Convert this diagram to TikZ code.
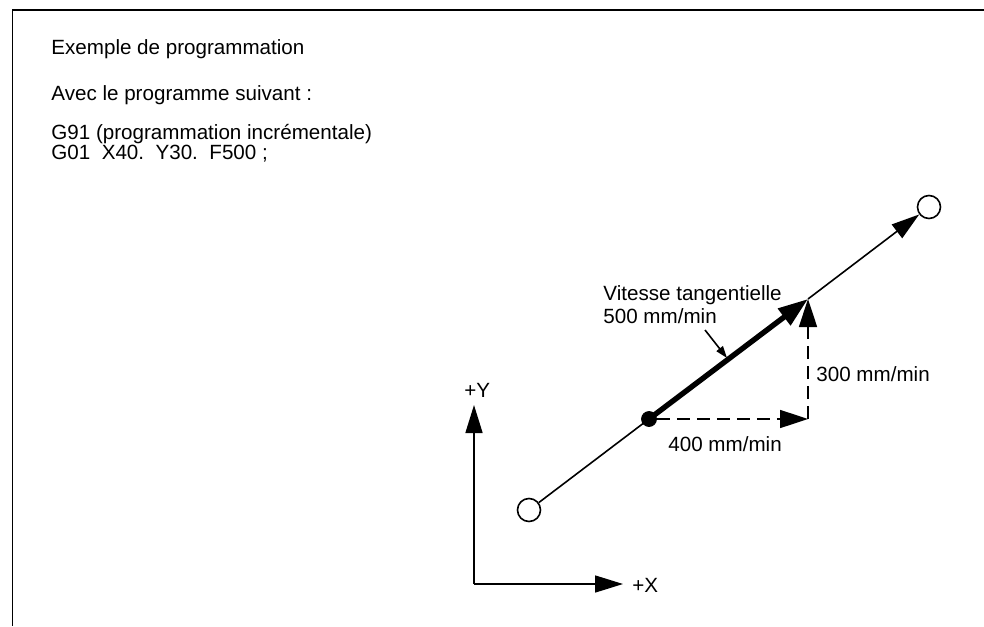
\documentclass[tikz,border=0pt]{standalone}
\usepackage{fontspec}
\setmainfont{Liberation Sans}
\usepackage{tikz}
\usetikzlibrary{                          % TikZ libraries
                arrows.meta,              % .
                calc}

\begin{document}
\begin{tikzpicture}[x=0.5pt,y=-0.5pt,
                    font=\fontsize{10.3}{12}\selectfont
                    ]
                % define styles
\tikzset{open-pt/.style={circle,
                       draw=black,
                       fill=white,
                       line width=0.8pt,
                       inner sep=0,
                       minimum size=11.5pt,
                       },
         cur-pt/.style={circle,
                       draw=black,
                       fill=black,
                       inner sep=0,
                       minimum size=7.5pt,
                       },
         thin/.style={line width=0.8pt},
         big-tip/.style={-{Triangle[length=14pt,width=8.5pt]}},
         comp/.style={thin,
                       dash pattern=on 6.5pt off 3.5pt,
                       -{Triangle[length=14pt,width=9pt]}},
         txt/.style={anchor=base west, inner sep=0}
}

\useasboundingbox (0,0) rectangle (984,626);

% frame
\draw[line width=0.6pt] (984,10) -- (12.5,10) -- (12.5,626);

% program text
\node[txt] (title) at (51,55)  {Exemple de programmation};
\node[txt] (intro) at (51,101) {Avec le programme suivant :};
\node[txt] (g91)   at (51,140) {G91 (programmation incrémentale)};
\node[txt] (g01)   at (51,159) {G01\ \ X40.\ \ Y30.\ \ F500 ;};

% axes
\coordinate (o)  at (474,584);
\coordinate (ax) at (623,584);
\coordinate (ay) at (474,405);
\draw[thin,big-tip] (o) -- (ax);
\draw[thin,big-tip] (o) -- (ay);
\node[txt] (lx) at (632,592) {+X};
\node[txt] (ly) at (464,397) {+Y};

% nodes
\node[open-pt]   (start) at  (529,510)    {};
\node[open-pt]   (end)   at  (929,207)    {};
\node[cur-pt]    (cur)   at  (649,419)    {};
\coordinate      (corner) at (808,299);
\coordinate      (foot)   at (808,419);

% path
\draw[thin] (start) -- (cur.center);
\draw[thin,big-tip] (corner) -- (end);

% components
\draw[comp] (cur) -- (foot);
\draw[comp] (foot) -- (corner);

% tangential speed
\draw[line width=2.7pt,-{Triangle[length=15pt,width=10pt]}] (cur.center) -- (corner);

% labels
\node[txt] (vt)   at (603,300) {Vitesse tangentielle};
\node[txt] (vt2)  at (603,323) {500 mm/min};
\node[txt] (v300) at (816,381) {300 mm/min};
\node[txt] (v400) at (668,451) {400 mm/min};

% pointer
\coordinate (ptr-a) at (705,330);
\coordinate (ptr-b) at (727,358);
\draw[thin,-{Triangle[length=6pt,width=4pt]}] (ptr-a) -- (ptr-b);

\end{tikzpicture}
\end{document}
